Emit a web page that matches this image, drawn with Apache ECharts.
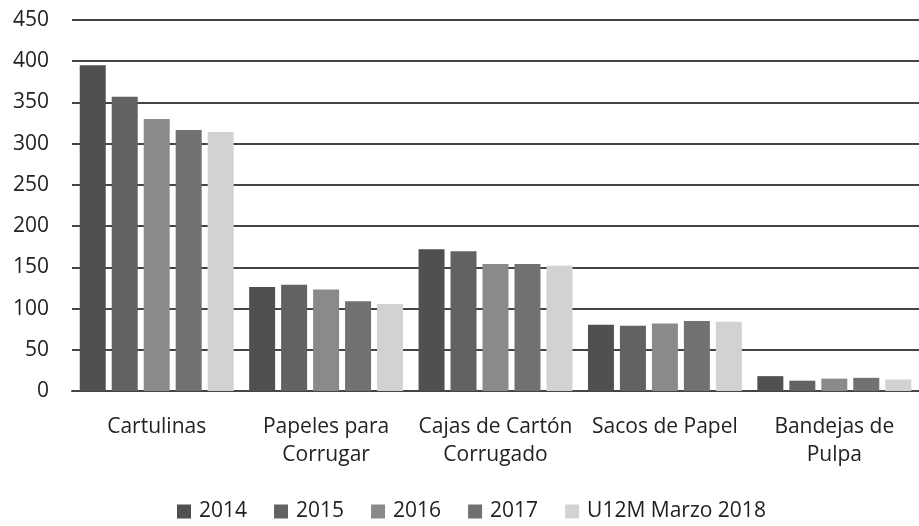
<!DOCTYPE html>
<html>
<head>
<meta charset="utf-8">
<script src="https://cdn.jsdelivr.net/npm/echarts@6/dist/echarts.min.js"></script>
<style>
  html, body { margin: 0; padding: 0; background: #fff; }
  #chart { width: 919px; height: 526px; }
</style>
</head>
<body>
<div id="chart"></div>
<script>
// categorias y valores (miles de toneladas aprox.)
var categories = ['Cartulinas', 'Papeles para\nCorrugar', 'Cajas de Cartón\nCorrugado', 'Sacos de Papel', 'Bandejas de\nPulpa'];
var seriesNames = ['2014', '2015', '2016', '2017', 'U12M Marzo 2018'];
var v2014 = [395, 126, 172, 80.5, 18];
var v2015 = [357, 129, 169.5, 79, 12.5];
var v2016 = [330, 123, 154, 82, 15];
var v2017 = [316.5, 109, 154, 85, 16];
var vU12M = [314, 105.5, 152, 84, 14];
var yTicks = [0, 50, 100, 150, 200, 250, 300, 350, 400, 450];

var colors = ['#505050', '#626262', '#8a8a8a', '#717171', '#d2d2d2'];
var allValues = [v2014, v2015, v2016, v2017, vU12M];

var series = [];
for (var i = 0; i < seriesNames.length; i++) {
    series.push({
        name: seriesNames[i],
        type: 'bar',
        data: allValues[i],
        barWidth: 26,
        barGap: '23%',
        itemStyle: { color: colors[i] }
    });
}

var chart = echarts.init(document.getElementById('chart'));
var option = {
    animation: false,
    textStyle: { fontFamily: 'Open Sans' },
    grid: { left: 72, right: 0, top: 20, bottom: 135 },
    legend: {
        data: seriesNames,
        top: 496,
        left: 172,
        itemWidth: 14,
        itemHeight: 14,
        itemGap: 27,
        icon: 'rect',
        textStyle: { fontSize: 21, color: '#222', fontFamily: 'Open Sans', padding: [0, 0, 0, 3] }
    },
    xAxis: {
        type: 'category',
        data: categories,
        axisLine: { show: true, lineStyle: { color: '#444', width: 2 } },
        axisTick: { show: false },
        axisLabel: { fontSize: 21, color: '#222', lineHeight: 28, margin: 22, interval: 0 }
    },
    yAxis: {
        type: 'value',
        min: 0,
        max: 450,
        interval: 50,
        axisLine: { show: false },
        axisTick: { show: false },
        axisLabel: { fontSize: 21, color: '#222', margin: 23 },
        splitLine: { lineStyle: { color: '#444', width: 2 } }
    },
    series: series
};
chart.setOption(option);
</script>
</body>
</html>
